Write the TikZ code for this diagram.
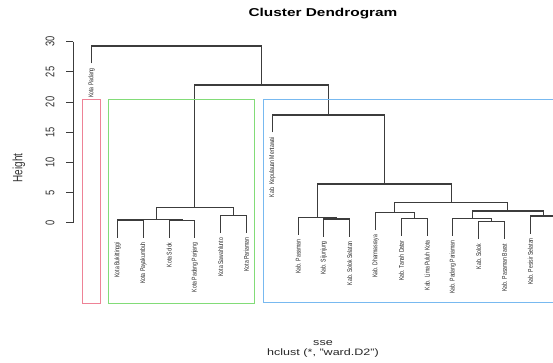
\documentclass[tikz,border=0pt]{standalone}
\usepackage{fontspec}
\setmainfont{Liberation Sans}

\definecolor{treegray}{RGB}{60,60,60}
\definecolor{boxred}{RGB}{238,130,150}
\definecolor{boxgreen}{RGB}{130,220,120}
\definecolor{boxblue}{RGB}{120,185,240}

\tikzset{
  branch/.style={draw=treegray, line width=1.1pt},
  axisline/.style={draw=treegray, line width=0.9pt},
  clusterbox/.style={line width=1pt},
  leaflabel/.style={font=\fontsize{5.1}{6}\selectfont, text=black!85, inner sep=0pt, xscale=1.35, rotate=90, anchor=east},
  ticklabel/.style={font=\fontsize{9.3}{11}\selectfont, text=black!80, inner sep=0pt, xscale=1.35, rotate=90},
  hlabel/.style={font=\fontsize{9.3}{11}\selectfont, text=black!85, inner sep=0pt, xscale=1.35},
}

\begin{document}
\begin{tikzpicture}[x=1pt,y=1pt,yscale=-1,xscale=1]
\useasboundingbox (0,0) rectangle (553,363);
\clip (0,0) rectangle (553,363);

%Title
\node[hlabel, font=\bfseries\fontsize{11.4}{13}\selectfont, text=black] (title) at (323,14) {Cluster Dendrogram};

%AXIS
\draw[axisline] (73,41.7) -- (73,222.7);
\draw[axisline] (66,222.7) -- (73,222.7);
\draw[axisline] (66,192.5) -- (73,192.5);
\draw[axisline] (66,162.4) -- (73,162.4);
\draw[axisline] (66,132.2) -- (73,132.2);
\draw[axisline] (66,102.0) -- (73,102.0);
\draw[axisline] (66,71.9) -- (73,71.9);
\draw[axisline] (66,41.7) -- (73,41.7);
\node[ticklabel] (t0) at (50,222.7) {0};
\node[ticklabel] (t5) at (50,192.5) {5};
\node[ticklabel] (t10) at (50,162.4) {10};
\node[ticklabel] (t15) at (50,132.2) {15};
\node[ticklabel] (t20) at (50,102.0) {20};
\node[ticklabel] (t25) at (50,71.9) {25};
\node[ticklabel] (t30) at (50,41.7) {30};
\node[ticklabel, font=\fontsize{10}{12}\selectfont] (ylab) at (19,168) {Height};

%Leaves: leg ends
\coordinate (l0) at (91.7,63.5);
\coordinate (l1) at (117.5,237.5);
\coordinate (l2) at (143.3,237.5);
\coordinate (l3) at (169.1,237.8);
\coordinate (l4) at (194.9,237.8);
\coordinate (l5) at (220.7,233.2);
\coordinate (l6) at (246.5,233.2);
\coordinate (l7) at (272.3,132.5);
\coordinate (l8) at (298.1,234.8);
\coordinate (l9) at (323.9,236.5);
\coordinate (l10) at (349.7,236.5);
\coordinate (l11) at (375.5,230.2);
\coordinate (l12) at (401.3,235.8);
\coordinate (l13) at (427.1,235.8);
\coordinate (l14) at (452.9,235.8);
\coordinate (l15) at (478.7,239.2);
\coordinate (l16) at (504.5,239.2);
\coordinate (l17) at (530.3,233.5);
\coordinate (l18) at (556.1,233.5);

%Leaf labels
\node[leaflabel] (kpadang) at (91.7,68) {Kota Padang};
\node[leaflabel] (kbukittinggi) at (117.5,242) {Kota Bukittinggi};
\node[leaflabel] (kpayakumbuh) at (143.3,242) {Kota Payakumbuh};
\node[leaflabel] (ksolok) at (169.1,242.3) {Kota Solok};
\node[leaflabel] (kpadangpanjang) at (194.9,242.3) {Kota Padang Panjang};
\node[leaflabel] (ksawahlunto) at (220.7,237.7) {Kota Sawahlunto};
\node[leaflabel] (kpariaman) at (246.5,237.7) {Kota Pariaman};
\node[leaflabel] (bmentawai) at (272.3,137) {Kab. Kepulauan Mentawai};
\node[leaflabel] (bpasaman) at (298.1,239.3) {Kab. Pasaman};
\node[leaflabel] (bsijunjung) at (323.9,241) {Kab. Sijunjung};
\node[leaflabel] (bsolselatan) at (349.7,241) {Kab. Solok Selatan};
\node[leaflabel] (bdharmasraya) at (375.5,234.7) {Kab. Dharmasraya};
\node[leaflabel] (btanahdatar) at (401.3,240.3) {Kab. Tanah Datar};
\node[leaflabel] (blimapuluh) at (427.1,240.3) {Kab. Lima Puluh Kota};
\node[leaflabel] (bpadpariaman) at (452.9,240.3) {Kab. Padang Pariaman};
\node[leaflabel] (bsolok) at (478.7,243.7) {Kab. Solok};
\node[leaflabel] (bpasbarat) at (504.5,243.7) {Kab. Pasaman Barat};
\node[leaflabel] (bpesisir) at (530.3,238) {Kab. Pesisir Selatan};

%Merge points
\coordinate (m1) at (130.4,220.0);
\coordinate (m2) at (182.0,220.3);
\coordinate (m3) at (156.2,219.3);
\coordinate (m4) at (233.6,215.7);
\coordinate (m5) at (194.9,207.3);
\coordinate (m6) at (336.8,219.0);
\coordinate (m7) at (317.5,217.3);
\coordinate (m8) at (414.2,218.3);
\coordinate (m9) at (394.9,212.7);
\coordinate (m10) at (491.6,221.7);
\coordinate (m11) at (472.3,218.3);
\coordinate (m12) at (543.2,216.0);
\coordinate (m13) at (507.7,211.0);
\coordinate (m14) at (451.3,202.7);
\coordinate (m15) at (384.4,184.0);
\coordinate (m16) at (328.3,115.0);
\coordinate (m17) at (261.6,85.0);
\coordinate (m18) at (176.7,46.0);

%Branches
\draw[branch] (l1) |- (m1) -| (l2);
\draw[branch] (l3) |- (m2) -| (l4);
\draw[branch] (m1) |- (m3) -| (m2);
\draw[branch] (l5) |- (m4) -| (l6);
\draw[branch] (m3) |- (m5) -| (m4);
\draw[branch] (l9) |- (m6) -| (l10);
\draw[branch] (l8) |- (m7) -| (m6);
\draw[branch] (l12) |- (m8) -| (l13);
\draw[branch] (l11) |- (m9) -| (m8);
\draw[branch] (l15) |- (m10) -| (l16);
\draw[branch] (l14) |- (m11) -| (m10);
\draw[branch] (l17) |- (m12) -| (l18);
\draw[branch] (m11) |- (m13) -| (m12);
\draw[branch] (m9) |- (m14) -| (m13);
\draw[branch] (m7) |- (m15) -| (m14);
\draw[branch] (l7) |- (m16) -| (m15);
\draw[branch] (m5) |- (m17) -| (m16);
\draw[branch] (l0) |- (m18) -| (m17);

%Cluster boxes
\draw[clusterbox, draw=boxred] (82.7,99.3) rectangle (100,303.3);
\draw[clusterbox, draw=boxgreen] (108.3,99.3) rectangle (254.3,303.3);
\draw[clusterbox, draw=boxblue] (263.5,99.3) rectangle (570,302.8);

%Axis titles below
\node[hlabel] (sub) at (323,343.3) {sse};
\node[hlabel] (method) at (323,352.7) {hclust (*, "ward.D2")};

\end{tikzpicture}
\end{document}
